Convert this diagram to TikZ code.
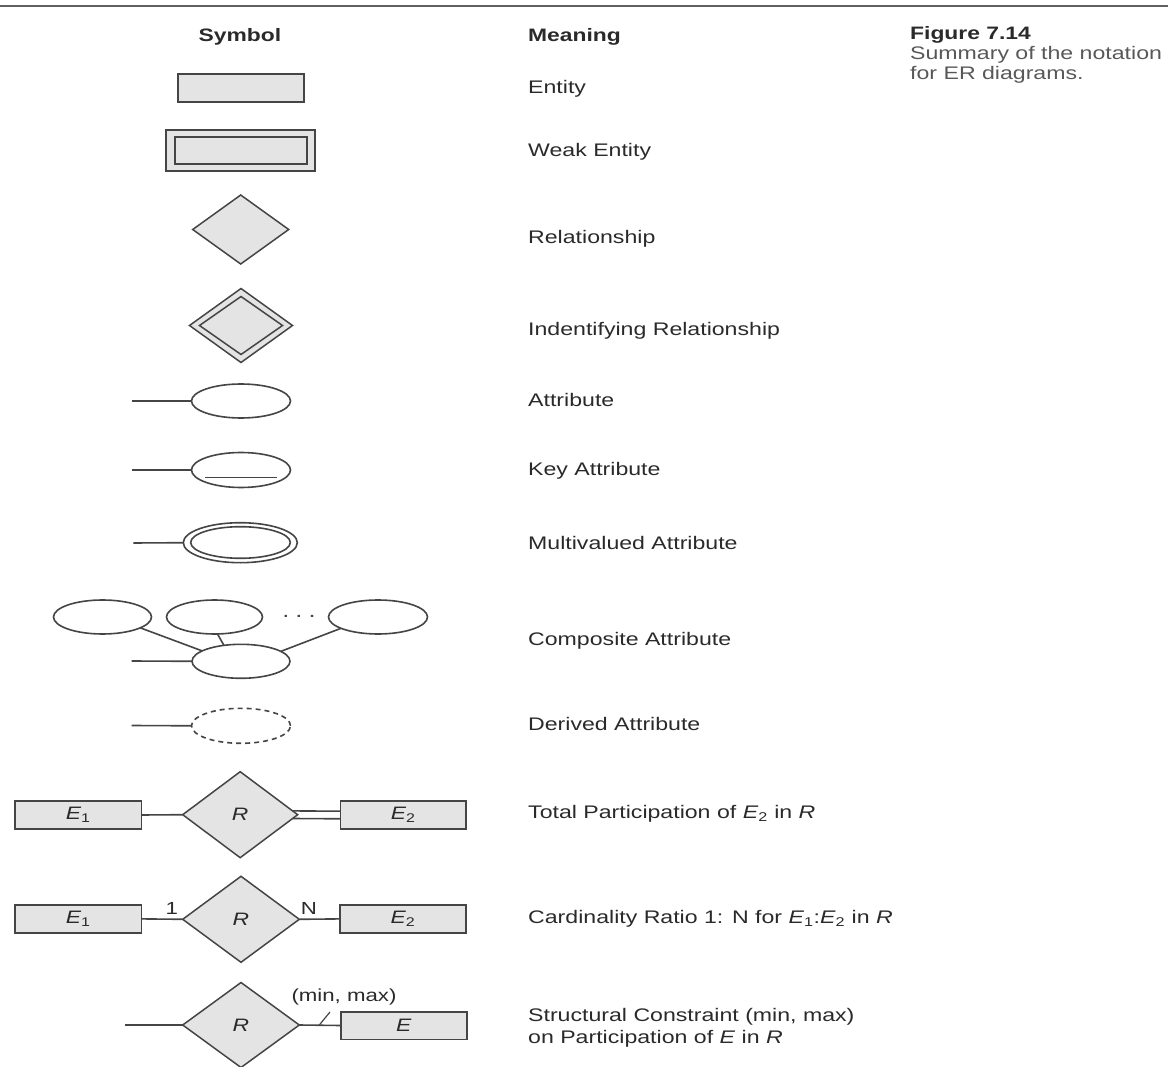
\documentclass[tikz,border=0pt]{standalone}
\usepackage{fontspec}
\setmainfont{Liberation Sans}[FakeStretch=1.27]
\usetikzlibrary{shapes.geometric,calc}
\definecolor{ln}{HTML}{454545}
\definecolor{fl}{HTML}{E4E4E4}
\definecolor{tx}{HTML}{2A2A2A}
\newcommand{\sbs}[1]{\textsubscript{\upshape #1}}
\begin{document}
\begin{tikzpicture}[x=1pt,y=-1pt,
  ent/.style={draw=ln,fill=fl,line width=1.6pt,rectangle,inner sep=0pt,outer sep=0pt,text=tx,font=\fontsize{18}{20}\selectfont\itshape},
  rel/.style={draw=ln,fill=fl,line width=1.5pt,diamond,inner sep=0pt,outer sep=0pt,text=tx,font=\fontsize{18}{20}\selectfont\itshape},
  att/.style={draw=ln,fill=white,line width=1.6pt,ellipse,inner sep=0pt,outer sep=0pt},
  lnk/.style={draw=ln,line width=1.6pt},
  mean/.style={anchor=base west,text=tx,inner sep=0pt,font=\fontsize{18.2}{20}\selectfont},
  head/.style={anchor=base,text=tx,inner sep=0pt,font=\fontsize{18}{20}\selectfont\bfseries},
  lbl/.style={text=tx,inner sep=0pt,font=\fontsize{17.5}{20}\selectfont}]
\useasboundingbox (0,0) rectangle (1168,1067);
% top rule
\draw[draw=ln!85,line width=2pt] (0,6) -- (1168,6);
% headers
\node[head] (hsym) at (240,41.5) {Symbol};
\node[head,anchor=base west] (hmean) at (528,41.5) {Meaning};
\node[head,anchor=base west] (hfig) at (910,39.5) {Figure 7.14};
\node[mean,text=ln!90] (hsum1) at (910,60) {Summary of the notation};
\node[mean,text=ln!90] (hsum2) at (910,80) {for ER diagrams.};

% entity
\node[ent,minimum width=126,minimum height=28] (ent) at (241,88) {};
% weak entity
\node[ent,minimum width=149,minimum height=41] (wout) at (240.3,150.5) {};
\node[ent,minimum width=132,minimum height=27] (win) at (240.8,150.8) {};
% relationship
\node[rel,minimum width=96,minimum height=69] (rel) at (240.7,229.5) {};
% identifying relationship
\node[rel,minimum width=103,minimum height=74] (iout) at (241,325.5) {};
\node[rel,minimum width=83,minimum height=58] (iin) at (241,325.5) {};
% attribute
\node[att,minimum width=99,minimum height=34] (attr) at (241,401) {};
\coordinate (attrL) at (131.7,401);
\draw[lnk] (attrL) -- (attr.west);
% key attribute
\node[att,minimum width=99,minimum height=35] (key) at (241,470) {};
\coordinate (keyL) at (131.7,470);
\draw[lnk] (keyL) -- (key.west);
\draw[lnk] ($(key.center)+(-36,7.5)$) -- ($(key.center)+(36,7.5)$);
% multivalued attribute
\node[att,minimum width=114,minimum height=40] (mout) at (240.3,542.7) {};
\node[att,minimum width=99.6,minimum height=31.6] (min) at (240.5,542.5) {};
\coordinate (mvL) at (133.3,543);
\draw[lnk] (mvL) -- (mout.west);
% composite attribute
\node[att,minimum width=98,minimum height=34] (c1) at (102.5,617) {};
\node[att,minimum width=96,minimum height=34] (c2) at (214.5,617) {};
\node[att,minimum width=99,minimum height=34] (c3) at (378,617) {};
\node[att,minimum width=98,minimum height=34] (cm) at (241,661.3) {};
\node[anchor=base,text=ln,inner sep=0pt,font=\fontsize{20}{20}\selectfont] (dots) at (299,617) {.\hspace{6pt}.\hspace{6pt}.};
\draw[lnk] (c1.-16) -- (cm.165);
\draw[lnk] (c2.-80) -- (cm.137);
\draw[lnk] (c3.197) -- (cm.14);
\coordinate (cmL) at (131.7,661);
\draw[lnk] (cmL) -- (cm.west);
% derived attribute
\node[att,dash pattern=on 5pt off 4pt,minimum width=99,minimum height=35] (der) at (241,725.8) {};
\coordinate (derL) at (131.7,725.5);
\draw[lnk] (derL) -- (der.west);

% total participation
\node[ent,minimum width=126.7,minimum height=28.3] (tE1) at (78.3,815) {\textit{E}\sbs{1}};
\node[rel,minimum width=115,minimum height=86] (tR) at (240.2,814.7) {R};
\node[ent,minimum width=125.3,minimum height=28.3] (tE2) at (403.3,815) {\textit{E}\sbs{2}};
\draw[lnk] (tE1.east) -- (tR.west);
\draw[lnk] ($(tR.east)+(-5.1,-3.8)$) -- ($(tE2.west)+(0,-3.8)$);
\draw[lnk] ($(tR.east)+(-5.1,3.8)$) -- ($(tE2.west)+(0,3.8)$);

% cardinality ratio
\node[ent,minimum width=126.7,minimum height=27.7] (cE1) at (78.3,918.9) {\textit{E}\sbs{1}};
\node[rel,minimum width=116.6,minimum height=86] (cR) at (241,919.3) {R};
\node[ent,minimum width=126,minimum height=27.7] (cE2) at (403,918.9) {\textit{E}\sbs{2}};
\draw[lnk] (cE1.east) -- (cR.west);
\draw[lnk] (cR.east) -- (cE2.west);
\node[lbl] (one) at (171.7,908) {1};
\node[lbl] (nn) at (309,908) {N};

% structural constraint
\coordinate (sL) at (125,1025);
\node[rel,minimum width=116.6,minimum height=85] (sR) at (241,1025) {R};
\node[ent,minimum width=126,minimum height=27.6] (sE) at (403.7,1025.5) {E};
\draw[lnk] (sL) -- (sR.west);
\draw[lnk] (sR.east) -- (sE.west);
\coordinate (tick1) at (319.3,1025);
\coordinate (tick2) at (330,1012);
\draw[draw=ln,line width=1.2pt] (tick1) -- (tick2);
\node[lbl] (mm) at (344,997) {(min, max)};

% meanings
\node[mean] (m1) at (528,93.5) {Entity};
\node[mean] (m2) at (528,156.5) {Weak Entity};
\node[mean] (m3) at (528,243.5) {Relationship};
\node[mean] (m4) at (528,335.5) {Indentifying Relationship};
\node[mean] (m5) at (528,406.5) {Attribute};
\node[mean] (m6) at (528,475.5) {Key Attribute};
\node[mean] (m7) at (528,549.5) {Multivalued Attribute};
\node[mean] (m8) at (528,645.5) {Composite Attribute};
\node[mean] (m9) at (528,730.5) {Derived Attribute};
\node[mean] (m10) at (528,818.5) {Total Participation of \textit{E}\sbs{2} in \textit{R}};
\node[mean] (m11) at (528,923.5) {Cardinality Ratio 1: N for \textit{E}\sbs{1}:\textit{E}\sbs{2} in \textit{R}};
\node[mean] (m12) at (528,1021.5) {Structural Constraint (min, max)};
\node[mean] (m13) at (528,1043.5) {on Participation of \textit{E} in \textit{R}};
\end{tikzpicture}
\end{document}
